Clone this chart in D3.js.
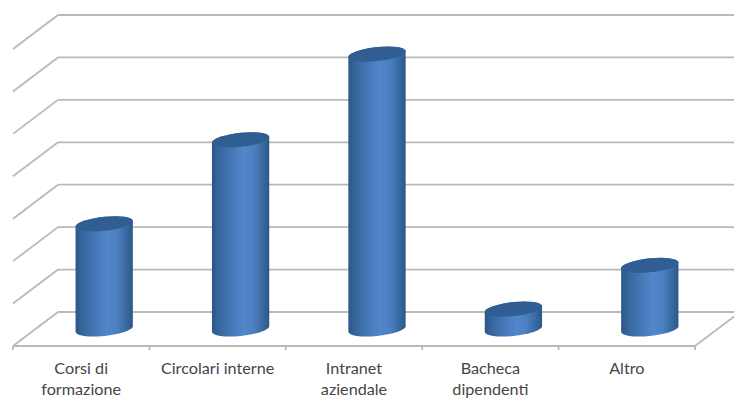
<!DOCTYPE html>
<html>
<head>
<meta charset="utf-8">
<script src="https://cdn.jsdelivr.net/npm/d3@7/dist/d3.min.js"></script>
<style>
  html, body { margin: 0; padding: 0; background: #fff; }
  svg { display: block; }
</style>
</head>
<body>
<div id="chart"></div>
<script>
const categories = ["Corsi di formazione", "Circolari interne", "Intranet aziendale", "Bacheca dipendenti", "Altro"];
const categoryLines = [["Corsi di", "formazione"], ["Circolari interne"], ["Intranet", "aziendale"], ["Bacheca", "dipendenti"], ["Altro"]];
const values = [12.4, 22.3, 32.4, 2.35, 7.5];
const gridValues = [0, 5, 10, 15, 20, 25, 30, 35];

const width = 734, height = 401;
const depthX = 45, depthY = -34;       // oblique offset from the front of the floor to the back wall
const shear = -0.1;                    // slope of the cylinder ellipses

const x = d3.scaleBand().domain(categories).range([13, 695]);
const y = d3.scaleLinear().domain([0, 35]).range([346, 49]);

const svg = d3.select("#chart").append("svg").attr("width", width).attr("height", height);

const defs = svg.append("defs");
const bodyGrad = defs.append("linearGradient").attr("id", "cylBody");
[[0, "#2b5587"], [0.1, "#356499"], [0.28, "#4273b0"], [0.55, "#5087cb"], [0.72, "#4c80c0"], [0.88, "#3a6aa3"], [1, "#2c5888"]]
  .forEach(([o, c]) => bodyGrad.append("stop").attr("offset", o).attr("stop-color", c));

const gridColor = "#b9b9b9";
const grid = svg.append("g").attr("fill", "none").attr("stroke", gridColor).attr("stroke-width", 1.8);

// Back wall lines and the diagonals that run down the left side wall
grid.selectAll("line.wall").data(gridValues).join("line").attr("class", "wall")
  .attr("x1", x.range()[0] + depthX).attr("x2", width)
  .attr("y1", d => y(d) + depthY).attr("y2", d => y(d) + depthY);
grid.selectAll("line.side").data(gridValues).join("line").attr("class", "side")
  .attr("x1", x.range()[0]).attr("x2", x.range()[0] + depthX)
  .attr("y1", d => y(d)).attr("y2", d => y(d) + depthY);

// Front edge of the floor, its right edge and the category ticks
grid.append("line").attr("x1", x.range()[0]).attr("x2", x.range()[1]).attr("y1", y(0)).attr("y2", y(0));
grid.append("line").attr("x1", x.range()[1]).attr("x2", x.range()[1] + depthX).attr("y1", y(0)).attr("y2", y(0) + depthY);
const tickXs = categories.map(c => x(c)).concat(x.range()[1]);
grid.selectAll("line.tick").data(tickXs).join("line").attr("class", "tick")
  .attr("x1", d => d).attr("x2", d => d).attr("y1", y(0)).attr("y2", y(0) + 4);

// Cylinders stand halfway back on the floor
const rx = x.bandwidth() * 0.21, ry = 7;
const bars = svg.selectAll("g.cyl").data(categories).join("g").attr("class", "cyl")
  .attr("transform", d => `matrix(1,${shear},0,1,${x(d) + x.bandwidth() / 2 + depthX / 2 + 0.5},${y(0) + depthY / 2})`);

bars.append("path")
  .attr("fill", "url(#cylBody)")
  .attr("d", (d, i) => {
    const h = y(0) - y(values[i]);
    return `M${-rx},${-h}L${-rx},0A${rx},${ry} 0 0 0 ${rx},0L${rx},${-h}A${rx},${ry} 0 0 0 ${-rx},${-h}Z`;
  });
bars.append("ellipse")
  .attr("cx", 0).attr("cy", (d, i) => -(y(0) - y(values[i])))
  .attr("rx", rx).attr("ry", ry)
  .attr("fill", "#305d92");

// Category labels, wrapped on two lines where needed
const labels = svg.selectAll("text.cat").data(categories).join("text").attr("class", "cat")
  .attr("text-anchor", "middle")
  .attr("font-family", "Lato, 'Open Sans', sans-serif")
  .attr("font-size", 16.2)
  .attr("fill", "#454545");
labels.each(function (d, i) {
  d3.select(this).selectAll("tspan").data(categoryLines[i]).join("tspan")
    .attr("x", x(d) + x.bandwidth() / 2)
    .attr("y", (l, j) => 374 + j * 21)
    .text(l => l);
});
</script>
</body>
</html>
